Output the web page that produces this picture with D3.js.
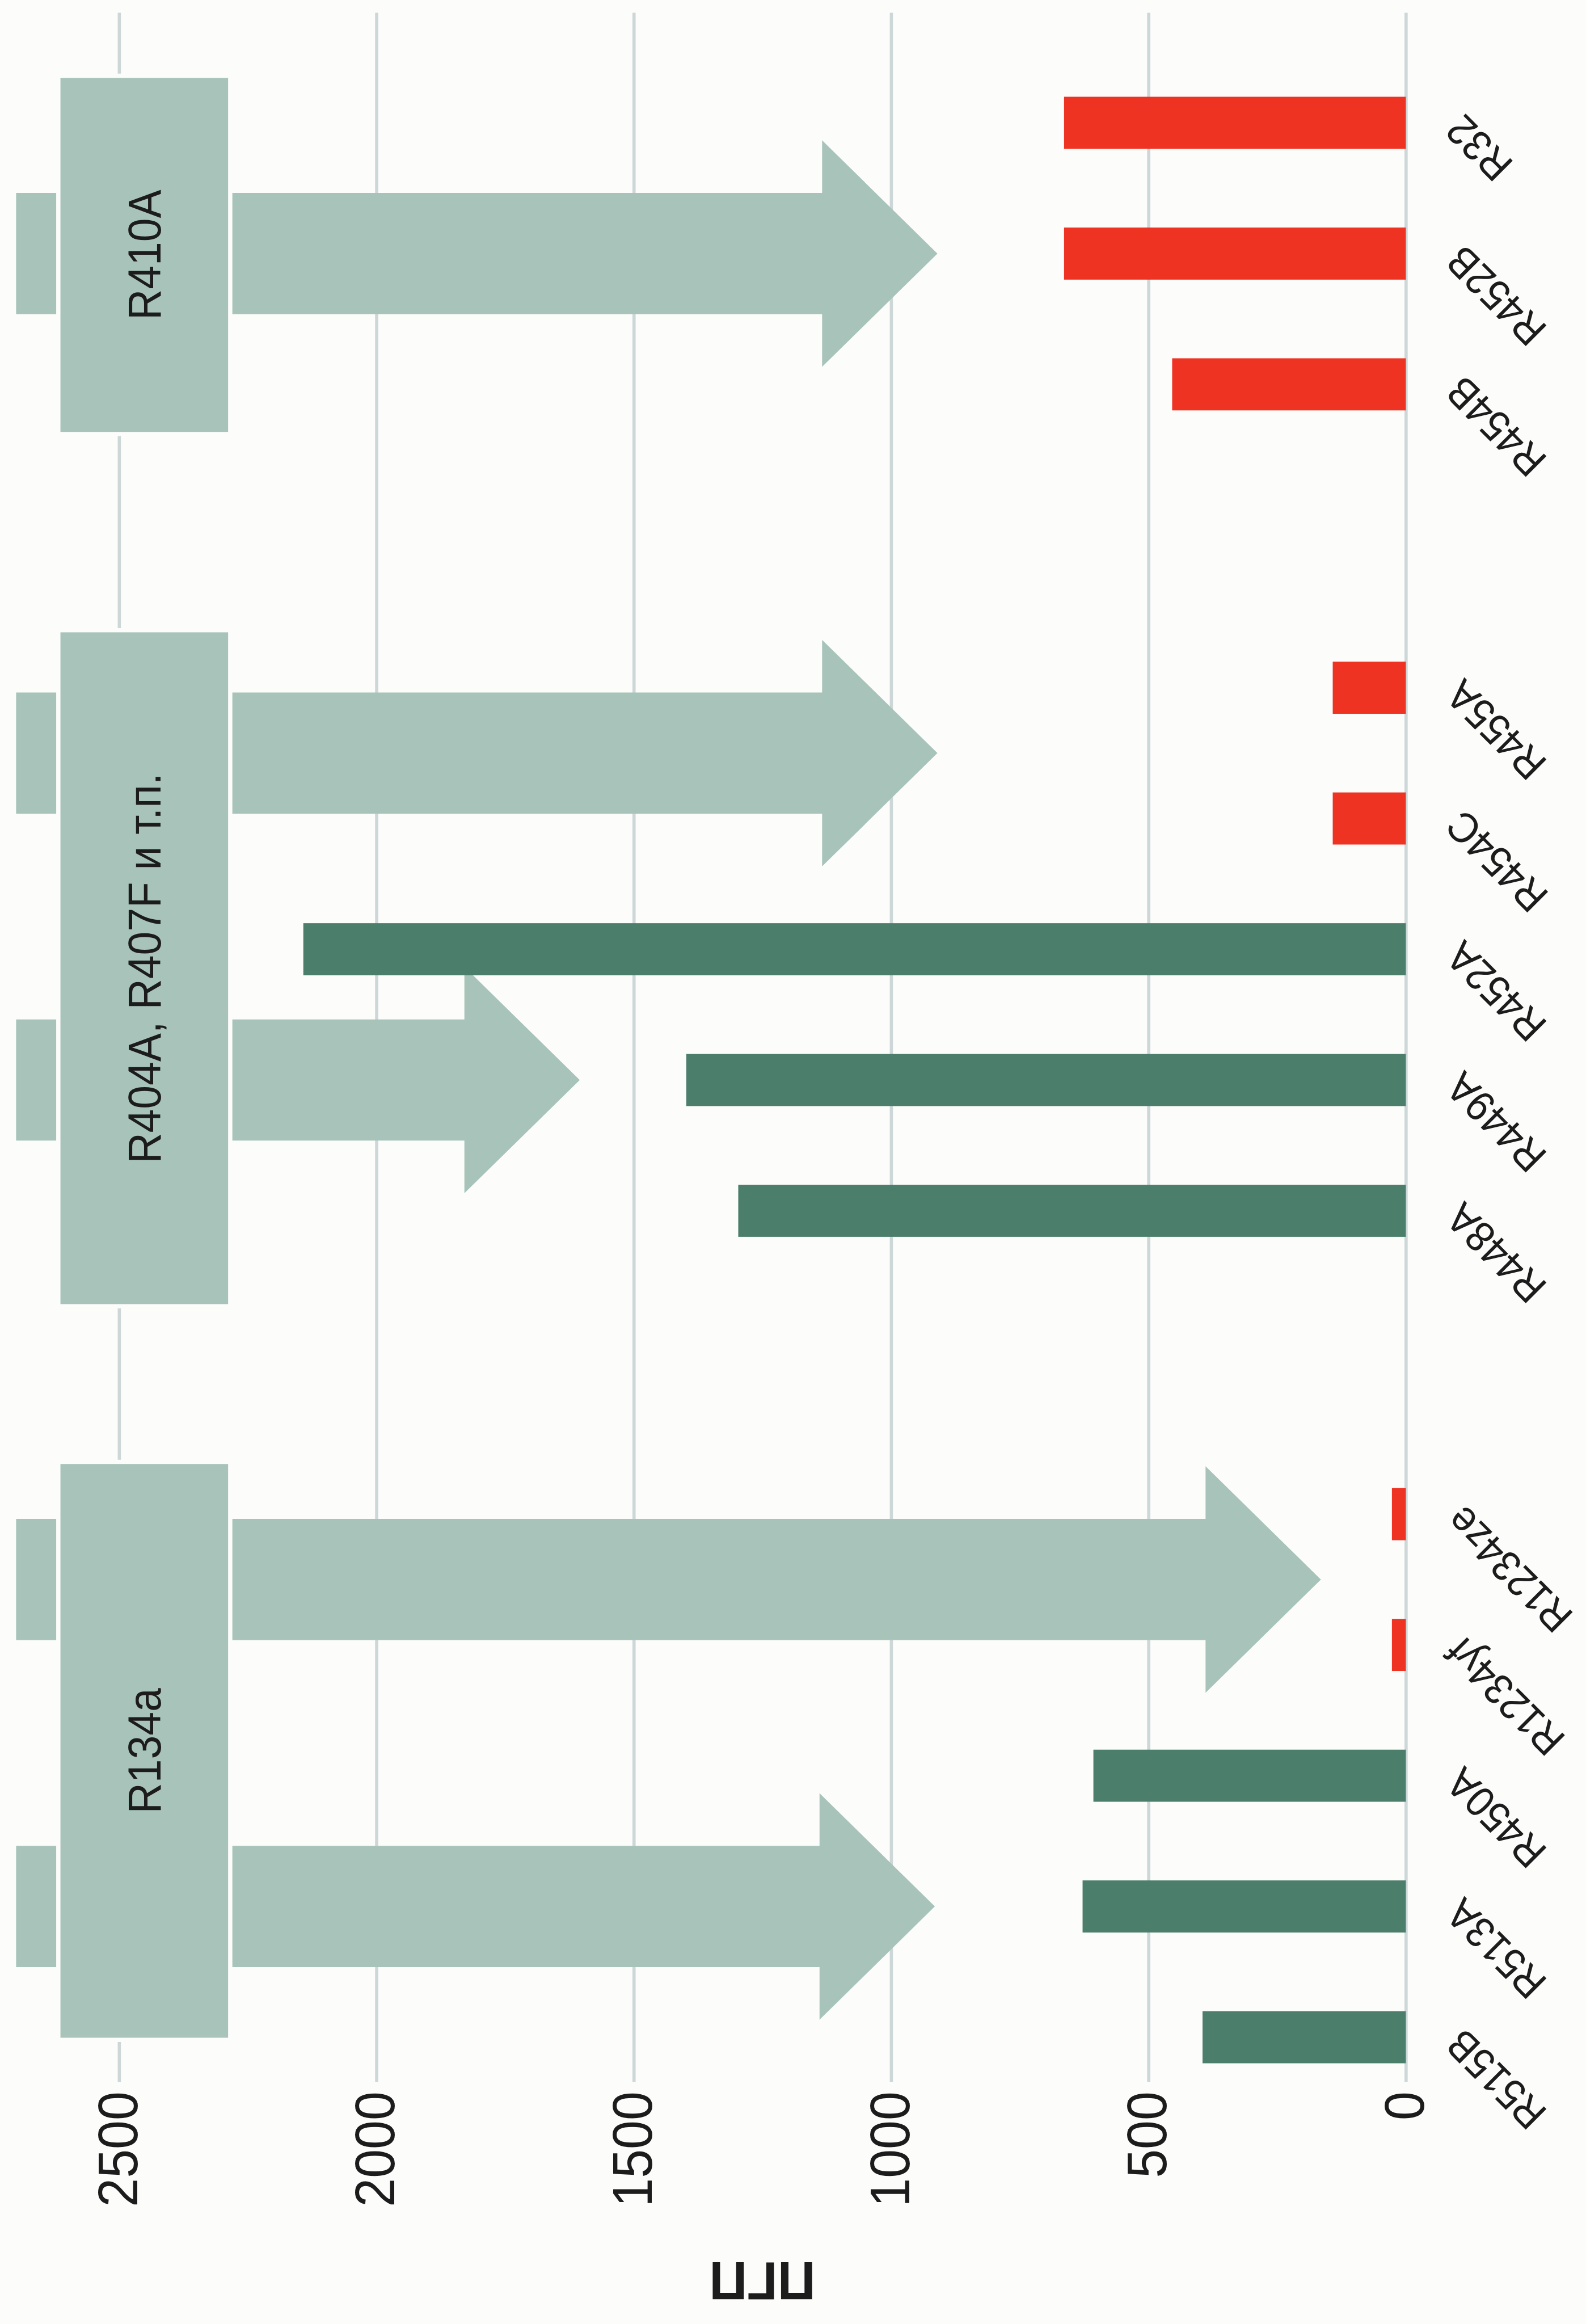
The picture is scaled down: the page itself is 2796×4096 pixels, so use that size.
<!DOCTYPE html>
<html>
<head>
<meta charset="utf-8">
<script src="https://cdn.jsdelivr.net/npm/d3@7"></script>
<style>
    body { margin: 0; background: #fcfcfb; }
    svg { display: block; }
    text { font-family: "Liberation Sans", Arial, sans-serif; fill: #1c1c1c; }
</style>
</head>
<body>
<div id="chart"></div>
<script>
// refrigerants, left to right in the upright chart
const categories = ["R515B", "R513A", "R450A", "R1234yf", "R1234ze",
    "R448A", "R449A", "R452A", "R454C", "R455A",
    "R454B", "R452B", "R32"];
const gwp = [395, 628, 607, 27, 27, 1297, 1398, 2142, 142, 142, 454, 664, 664];
const barKind = ["mid", "mid", "mid", "low", "low", "mid", "mid", "mid", "low", "low", "low", "low", "low"];
const groupOf = [0, 0, 0, 0, 0, 1, 1, 1, 1, 1, 2, 2, 2];
const groupLabels = ["R134a", "R404A, R407F и т.п.", "R410A"];
const arrowTargets = [["R515B", "R513A", "R450A"], ["R1234yf", "R1234ze"],
    ["R448A", "R449A", "R452A"], ["R454C", "R455A"], ["R454B", "R452B", "R32"]];
const arrowTips = [915, 165, 1605, 910, 910];
const yTicks = [0, 500, 1000, 1500, 2000, 2500];
const yTitle = "ПГП";

const W = 2796, H = 4096, k = 0.937;
const refH = 4369;
const colors = {mid: "#4c7e6c", low: "#ee3323", light: "#a8c4ba", grid: "#cdd7d8"};

let svg = d3.select("#chart").append("svg").attr("width", W).attr("height", H);
svg.append("rect").attr("width", W).attr("height", H).attr("fill", "#fcfcfb");

// the chart is drawn upright, then turned a quarter turn to the left
let g = svg.append("g").attr("transform", `scale(${k}) translate(0,${refH}) rotate(-90)`);

const gapSlots = 1.32;
let slot = categories.map((c, i) => i + groupOf[i] * gapSlots);
let x = d3.scaleLinear().domain([0, slot[slot.length - 1]]).range([537, 4138]);
let xc = c => x(slot[categories.indexOf(c)]);
let y = d3.scaleLinear().domain([0, 2500]).range([2645, 224]);

// grid + value labels
const gridStart = 453, gridEnd = 4345;
let axis = d3.axisLeft(y)
    .tickValues(yTicks)
    .tickFormat(d3.format("d"))
    .tickSize(-(gridEnd - gridStart))
    .tickPadding(19);
let ax = g.append("g").attr("transform", `translate(${gridStart},0)`).call(axis);
ax.select(".domain").remove();
ax.selectAll(".tick line").attr("stroke", colors.grid).attr("stroke-width", 6);
ax.selectAll(".tick text")
    .attr("font-size", 104)
    .attr("font-family", null)
    .attr("fill", "#1c1c1c")
    .attr("transform", "scale(0.94,1)");
ax.attr("font-size", null).attr("font-family", null);

g.append("text")
    .attr("transform", `translate(79,${(y(0) + y(2500)) / 2}) rotate(-90)`)
    .attr("text-anchor", "middle")
    .attr("dy", "0.35em")
    .attr("font-size", 100)
    .attr("font-weight", "bold")
    .text(yTitle);

// big arrows
const shaftHalf = 114, headHalf = 213, headLen = 217;
let tailV = y(2700);
g.append("g").selectAll("path")
    .data(arrowTargets)
    .join("path")
    .attr("d", function (t, j) {
        let c = d3.mean(t, xc);
        let tip = y(arrowTips[j]);
        let base = tip - headLen;
        let pts = [[c - shaftHalf, tailV], [c + shaftHalf, tailV], [c + shaftHalf, base],
            [c + headHalf, base], [c, tip], [c - headHalf, base], [c - shaftHalf, base]];
        return d3.line()(pts) + "Z";
    })
    .attr("fill", colors.light);

// group boxes
const boxPad = [[0.02, 0.40], [0.73, 0.44], [0.38, 0.36]];
let boxTop = y(2618), boxBottom = y(2284);
let boxes = g.append("g").selectAll("g")
    .data(groupLabels)
    .join("g");
boxes.append("rect")
    .attr("x", (d, gi) => x(d3.min(slot.filter((s, i) => groupOf[i] === gi)) - boxPad[gi][0]))
    .attr("width", function (d, gi) {
        let s = slot.filter((v, i) => groupOf[i] === gi);
        return x(d3.max(s) + boxPad[gi][1]) - x(d3.min(s) - boxPad[gi][0]);
    })
    .attr("y", boxTop)
    .attr("height", boxBottom - boxTop)
    .attr("fill", colors.light)
    .attr("stroke", "#fcfcfb")
    .attr("stroke-width", 8);
boxes.append("text")
    .attr("transform", function (d, gi) {
        let s = slot.filter((v, i) => groupOf[i] === gi);
        let cx = (x(d3.min(s) - boxPad[gi][0]) + x(d3.max(s) + boxPad[gi][1])) / 2;
        return `translate(${cx},${(boxTop + boxBottom) / 2}) scale(0.91,1)`;
    })
    .attr("text-anchor", "middle")
    .attr("dy", "0.35em")
    .attr("font-size", 88)
    .text(d => d);

// bars
const barW = 98;
g.append("g").selectAll("rect")
    .data(categories)
    .join("rect")
    .attr("x", d => xc(d) - barW / 2)
    .attr("width", barW)
    .attr("y", (d, i) => y(gwp[i]))
    .attr("height", (d, i) => y(0) - y(gwp[i]))
    .attr("fill", (d, i) => colors[barKind[i]]);

// category labels
g.append("g").selectAll("text")
    .data(categories)
    .join("text")
    .attr("transform", d => `translate(${xc(d)},${y(0) + 90}) rotate(-45) scale(0.92,1)`)
    .attr("text-anchor", "end")
    .attr("dy", "0.35em")
    .attr("font-size", 80)
    .text(d => d);
</script>
</body>
</html>
